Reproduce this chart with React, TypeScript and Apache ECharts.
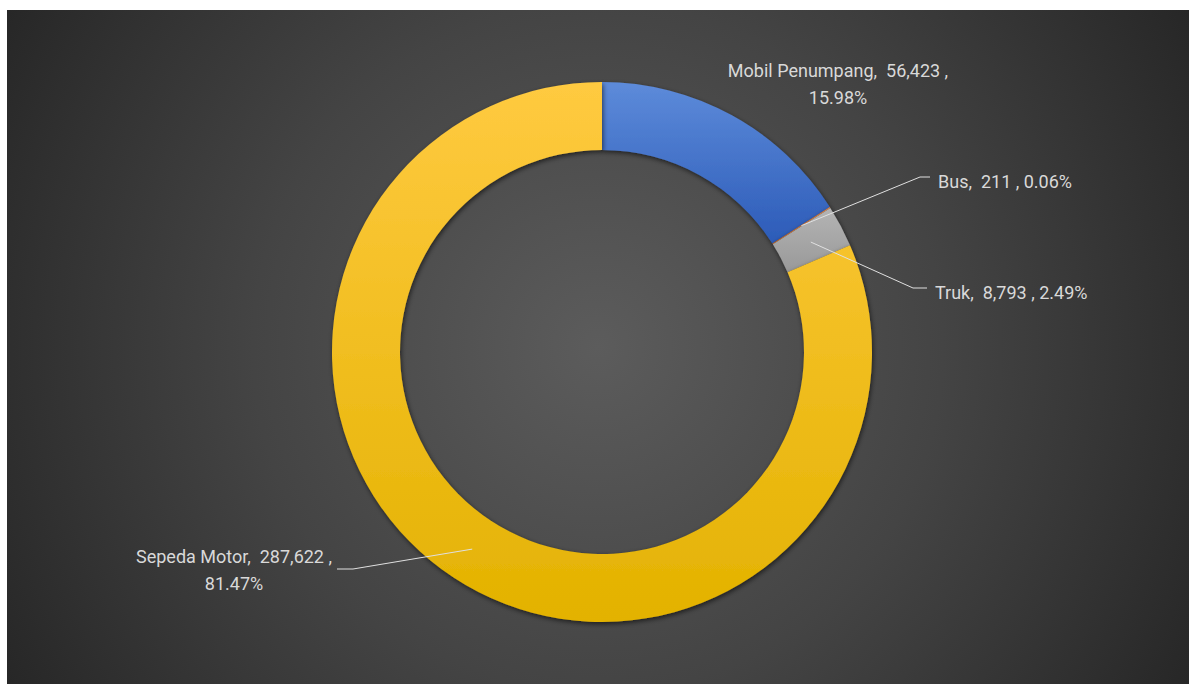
import React, { useEffect, useRef } from "react";
import * as echarts from "echarts";

const categories = ["Mobil Penumpang", "Bus", "Truk", "Sepeda Motor"];
const values = [56423, 211, 8793, 287622];
const colorTop = ["#5d8bda", "#f08a45", "#b4b4b4", "#ffca40"];
const colorBottom = ["#2c5bb8", "#d96c20", "#999999", "#e3b200"];
const wrapLabel = [true, false, false, true];

const W = 1182;
const H = 674;
const CX = 595;
const CY = 342;
const R_IN = 202;
const R_OUT = 270;

// label placement (chart pixel coords): [x, y, align, elbowX, elbowY, endX, endY]
const labelPlace: any[] = [
  [831, 74, "center", null, null, null, null],
  [931, 171, "left", 913, 167, 923, 167],
  [928, 282, "left", 906, 278, 920, 278],
  [227, 560, "center", 346, 559, 330, 559],
];

const fmt = (n: number) => n.toLocaleString("en-US");

export default function App() {
  const ref = useRef<HTMLDivElement>(null);
  useEffect(() => {
    if (!ref.current) return;
    const chart = echarts.init(ref.current, null, { renderer: "svg" });
    const total = values.reduce((a, b) => a + b, 0);
    let acc = 0;
    const mids = values.map((v) => {
      const a0 = (acc / total) * Math.PI * 2;
      acc += v;
      const a1 = (acc / total) * Math.PI * 2;
      const m = (a0 + a1) / 2;
      const r = (R_IN + R_OUT) / 2;
      return [CX + r * Math.sin(m), CY - r * Math.cos(m)];
    });
    const fontFamily = "Roboto, 'Liberation Sans', sans-serif";
    const pieData = categories.map((name, i) => ({
      name,
      value: values[i],
      itemStyle: {
        color: {
          type: "linear",
          x: 0,
          y: 0,
          x2: 0,
          y2: 1,
          colorStops: [
            { offset: 0, color: colorTop[i] },
            { offset: 1, color: colorBottom[i] },
          ],
        },
      },
    }));
    const labelData = categories.map((name, i) => ({
      name,
      value: values[i],
      itemStyle: { color: "rgba(0,0,0,0)" },
      labelLine: { show: labelPlace[i][3] !== null },
    }));
    const common = {
      type: "pie",
      center: [CX, CY],
      radius: [R_IN, R_OUT],
      startAngle: 90,
      clockwise: true,
      avoidLabelOverlap: false,
      silent: true,
    };
    chart.setOption({
      animation: false,
      graphic: [
        {
          type: "rect",
          left: 0,
          top: 0,
          z: -10,
          silent: true,
          shape: { x: 0, y: 0, width: W, height: H },
          style: {
            fill: {
              type: "radial",
              global: true,
              x: W / 2,
              y: H / 2,
              r: 690,
              colorStops: [
                { offset: 0, color: "#5c5c5c" },
                { offset: 0.5, color: "#444444" },
                { offset: 1, color: "#262626" },
              ],
            },
          },
        },
      ],
      series: [
        {
          ...common,
          z: 2,
          data: pieData,
          itemStyle: {
            borderWidth: 0,
            shadowBlur: 5,
            shadowColor: "rgba(0,0,0,0.6)",
            shadowOffsetX: 1,
            shadowOffsetY: 2,
          },
          label: { show: false },
          labelLine: { show: false },
        },
        {
          ...common,
          z: 3,
          data: labelData,
          itemStyle: { borderWidth: 0 },
          label: {
            show: true,
            position: "outside",
            color: "#d9d9d9",
            fontSize: 18,
            lineHeight: 27,
            fontFamily,
            formatter: (p: any) =>
              `${p.name},  ${fmt(p.value)} ,${wrapLabel[p.dataIndex] ? "\n" : " "}${p.percent.toFixed(2)}%`,
          },
          labelLine: {
            show: true,
            lineStyle: { color: "#e0e0e0", width: 1, opacity: 1 },
          },
          labelLayout: (p: any) => {
            const lp = labelPlace[p.dataIndex];
            const res: any = {
              x: lp[0],
              y: lp[1],
              align: lp[2],
              verticalAlign: "middle",
            };
            if (lp[3] !== null) {
              res.labelLinePoints = [
                mids[p.dataIndex],
                [lp[3], lp[4]],
                [lp[5], lp[6]],
              ];
            }
            return res;
          },
        },
      ],
    });
    return () => chart.dispose();
  }, []);
  return (
    <div
      ref={ref}
      style={{ position: "absolute", left: 7, top: 10, width: W, height: H }}
    />
  );
}
